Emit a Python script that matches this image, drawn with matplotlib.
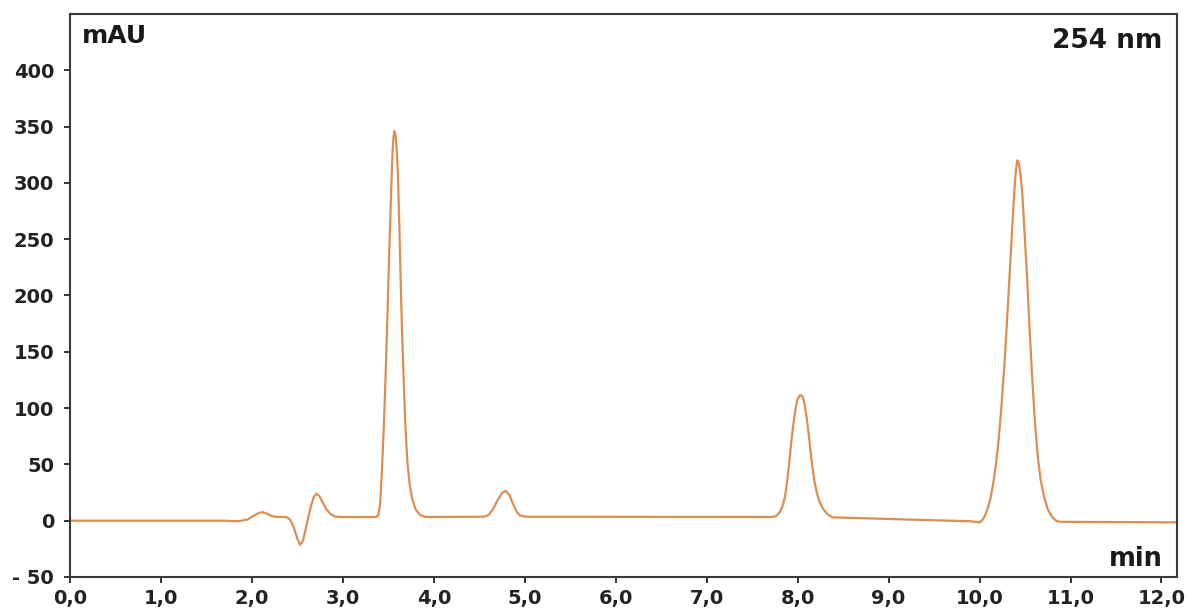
import matplotlib.pyplot as plt

# Chromatogram trace (time in min, signal in mAU)
time_min = [0.0, 1.7, 1.85, 1.95, 2.02, 2.08, 2.12, 2.17, 2.22, 2.28, 2.38,
            2.42, 2.46, 2.50, 2.53, 2.56, 2.59, 2.62, 2.65, 2.68, 2.71, 2.74,
            2.78, 2.82, 2.87, 2.92, 3.0,
            3.37, 3.39, 3.41, 3.43, 3.45, 3.47, 3.49, 3.51, 3.53, 3.545, 3.557,
            3.568, 3.58, 3.592, 3.605, 3.62, 3.635, 3.65, 3.67, 3.69, 3.71,
            3.73, 3.76, 3.80, 3.85, 3.91,
            4.55, 4.60, 4.65, 4.70, 4.75, 4.79, 4.83, 4.87, 4.91, 4.95, 5.02,
            7.72, 7.76, 7.80, 7.83, 7.86, 7.88, 7.90, 7.92, 7.94, 7.96, 7.98,
            8.00, 8.02, 8.04, 8.06, 8.08, 8.10, 8.12, 8.14, 8.16, 8.18, 8.21,
            8.24, 8.28, 8.33, 8.38, 9.0, 9.9,
            10.0, 10.03, 10.06, 10.09, 10.12, 10.15, 10.18, 10.21, 10.24, 10.27,
            10.30, 10.33, 10.36, 10.38, 10.40, 10.415, 10.43, 10.45, 10.47,
            10.49, 10.52, 10.55, 10.58, 10.61, 10.64, 10.67, 10.71, 10.75,
            10.80, 10.85, 10.9, 12.17]
signal_mau = [0, 0, -0.5, 1, 4.5, 7, 7.5, 6, 4, 3.3, 3.3,
              1, -6, -16, -21.5, -18, -8, 3, 13, 21, 24, 22,
              16, 10, 5.5, 3.5, 3.3,
              3.3, 5, 15, 45, 83, 128, 182, 238, 290, 325, 341,
              346, 342, 330, 308, 265, 215, 170, 122, 80, 52,
              35, 20, 10, 5, 3.3,
              3.5, 5, 10, 18, 24.5, 26.5, 23, 15, 8, 4.5, 3.5,
              3.3, 4, 7, 12, 21, 32, 46, 62, 77, 90, 101,
              108, 111, 111.5, 109, 102, 91, 78, 63, 49, 37, 25,
              17, 10.5, 5.5, 3, 1.5, -0.5,
              -1.5, 0.5, 4.5, 11, 20, 33, 50, 72, 101, 135,
              175, 218, 262, 290, 312, 320, 318, 308, 290,
              262, 220, 170, 125, 86, 57, 37, 21, 10,
              3, -0.5, -1, -1.5]

x_ticks = [0, 1, 2, 3, 4, 5, 6, 7, 8, 9, 10, 11, 12]
x_labels = ['0,0', '1,0', '2,0', '3,0', '4,0', '5,0', '6,0', '7,0', '8,0',
            '9,0', '10,0', '11,0', '12,0']
y_ticks = [-50, 0, 50, 100, 150, 200, 250, 300, 350, 400]
y_labels = ['- 50', '0', '50', '100', '150', '200', '250', '300', '350', '400']

plt.rcParams['font.family'] = ['DejaVu Sans']

fig = plt.figure(figsize=(11.88, 6.14), dpi=100)
ax = fig.add_axes([0.0589, 0.0603, 0.9318, 0.9169])

ax.plot(time_min, signal_mau, color='#DC8E52', linewidth=1.6)

ax.set_xlim(0, 12.17)
ax.set_ylim(-50, 450)
ax.set_xticks(x_ticks)
ax.set_xticklabels(x_labels, fontsize=14, fontweight='bold', color='#222222')
ax.set_yticks(y_ticks)
ax.set_yticklabels(y_labels, fontsize=14, fontweight='bold', color='#222222')
ax.tick_params(axis='x', direction='out', length=4.5, width=1.4, pad=4, color='#333333')
ax.tick_params(axis='y', direction='out', length=4.5, width=1.4, pad=7, color='#333333')

for side in ['left', 'bottom', 'top', 'right']:
    ax.spines[side].set_color('#3a3a3a')
    ax.spines[side].set_linewidth(1.5)

ax.text(0.011, 0.948, 'mAU', transform=ax.transAxes, fontsize=18,
        fontweight='bold', color='#1a1a1a', ha='left', va='baseline')
ax.text(0.987, 0.94, '254 nm', transform=ax.transAxes, fontsize=19,
        fontweight='bold', color='#1a1a1a', ha='right', va='baseline')
ax.text(0.987, 0.02, 'min', transform=ax.transAxes, fontsize=18.5,
        fontweight='bold', color='#1a1a1a', ha='right', va='baseline')

fig.savefig('out.png', dpi=100)
